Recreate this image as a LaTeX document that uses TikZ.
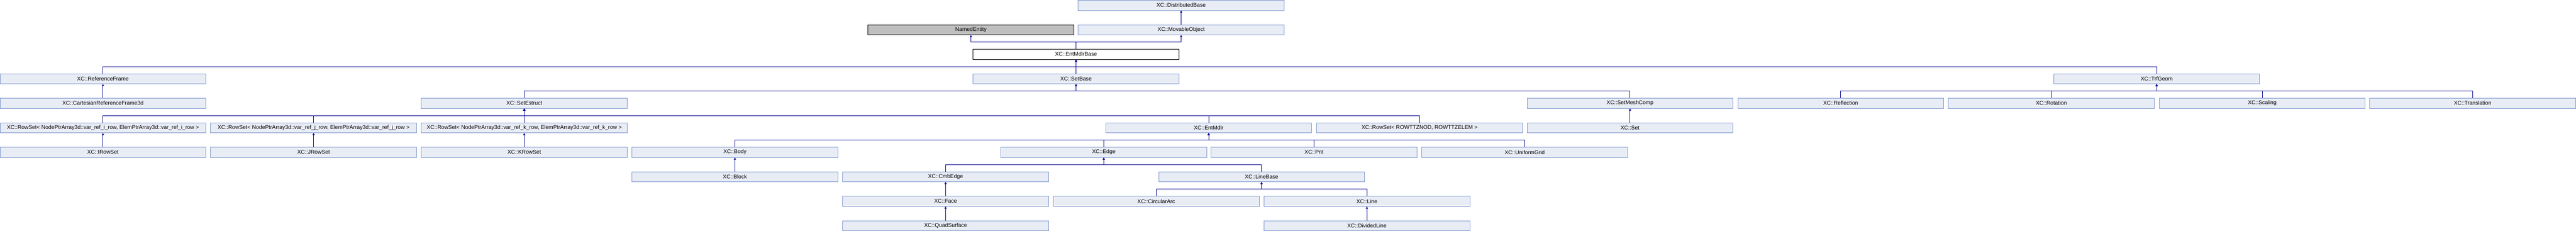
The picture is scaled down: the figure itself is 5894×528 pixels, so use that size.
\documentclass[tikz,border=0pt]{standalone}
\usepackage{fontspec}
\setmainfont{Liberation Sans}
\usetikzlibrary{arrows.meta}
\definecolor{boxfill}{RGB}{232,236,245}
\definecolor{boxborder}{RGB}{124,150,205}
\definecolor{linkc}{RGB}{0,0,140}
\definecolor{grayfill}{RGB}{191,191,191}
\begin{document}
\begin{tikzpicture}[x=1pt,y=-1pt,
  cls/.style={draw=boxborder, fill=boxfill, line width=1pt, minimum width=471pt, minimum height=23pt, inner sep=0pt, font=\fontsize{12.5}{14}\selectfont},
  ext/.style={cls, draw=black, fill=grayfill},
  cur/.style={cls, draw=black, fill=white},
  inh/.style={draw=linkc, line width=1pt, -{Triangle[width=5pt,length=5pt]}}]
\useasboundingbox (0,0) rectangle (5894,528);
% row 0
\node[cls] (DistBase) at (2702.5,12) {XC::DistributedBase};
% row 1
\node[ext] (NamedEntity) at (2221.5,68) {NamedEntity};
\node[cls] (MovObj) at (2702.5,68) {XC::MovableObject};
% row 2
\node[cur] (EMB) at (2462,124) {XC::EntMdlrBase};
% row 3
\node[cls] (RefFrame) at (235.5,180) {XC::ReferenceFrame};
\node[cls] (SetBase) at (2462,180) {XC::SetBase};
\node[cls] (TrfGeom) at (4934.5,180) {XC::TrfGeom};
% row 4
\node[cls] (CartRF) at (235.5,236) {XC::CartesianReferenceFrame3d};
\node[cls] (SetEstruct) at (1199.5,236) {XC::SetEstruct};
\node[cls] (SetMeshComp) at (3729.5,236) {XC::SetMeshComp};
\node[cls] (Reflection) at (4211.5,236) {XC::Reflection};
\node[cls] (Rotation) at (4693.5,236) {XC::Rotation};
\node[cls] (Scaling) at (5176,236) {XC::Scaling};
\node[cls] (Translation) at (5657.5,236) {XC::Translation};
% row 5
\node[cls] (RSi) at (235.5,292) {XC::RowSet< NodePtrArray3d::var\_ref\_i\_row, ElemPtrArray3d::var\_ref\_i\_row >};
\node[cls] (RSj) at (717.5,292) {XC::RowSet< NodePtrArray3d::var\_ref\_j\_row, ElemPtrArray3d::var\_ref\_j\_row >};
\node[cls] (RSk) at (1199.5,292) {XC::RowSet< NodePtrArray3d::var\_ref\_k\_row, ElemPtrArray3d::var\_ref\_k\_row >};
\node[cls] (EntMdlr) at (2765.5,292) {XC::EntMdlr};
\node[cls] (RSrow) at (3248,292) {XC::RowSet< ROWTTZNOD, ROWTTZELEM >};
\node[cls] (Set) at (3729.5,292) {XC::Set};
% row 6
\node[cls] (IRowSet) at (235.5,348) {XC::IRowSet};
\node[cls] (JRowSet) at (717.5,348) {XC::JRowSet};
\node[cls] (KRowSet) at (1199.5,348) {XC::KRowSet};
\node[cls] (Body) at (1681.5,348) {XC::Body};
\node[cls] (Edge) at (2525.5,348) {XC::Edge};
\node[cls] (Pnt) at (3006.5,348) {XC::Pnt};
\node[cls] (UniformGrid) at (3488.5,348) {XC::UniformGrid};
% row 7
\node[cls] (Block) at (1681.5,404) {XC::Block};
\node[cls] (CmbEdge) at (2163.5,404) {XC::CmbEdge};
\node[cls] (LineBase) at (2886.5,404) {XC::LineBase};
% row 8
\node[cls] (Face) at (2163.5,460) {XC::Face};
\node[cls] (CircularArc) at (2645.5,460) {XC::CircularArc};
\node[cls] (Line) at (3127.5,460) {XC::Line};
% row 9
\node[cls] (QuadSurface) at (2163.5,516) {XC::QuadSurface};
\node[cls] (DividedLine) at (3127.5,516) {XC::DividedLine};
% connectors: child -> parent
\foreach \c/\p in {MovObj/DistBase, EMB/NamedEntity, EMB/MovObj,
  RefFrame/EMB, SetBase/EMB, TrfGeom/EMB,
  CartRF/RefFrame, SetEstruct/SetBase, SetMeshComp/SetBase,
  Reflection/TrfGeom, Rotation/TrfGeom, Scaling/TrfGeom, Translation/TrfGeom,
  RSi/SetEstruct, RSj/SetEstruct, RSk/SetEstruct, EntMdlr/SetEstruct, RSrow/SetEstruct,
  Set/SetMeshComp, IRowSet/RSi, JRowSet/RSj, KRowSet/RSk,
  Body/EntMdlr, Edge/EntMdlr, Pnt/EntMdlr, UniformGrid/EntMdlr,
  Block/Body, CmbEdge/Edge, LineBase/Edge,
  Face/CmbEdge, CircularArc/LineBase, Line/LineBase,
  QuadSurface/Face, DividedLine/Line}
  {\draw[inh] (\c.north) |- ([yshift=-16.5pt]\p.south) -- (\p.south);}
\end{tikzpicture}
\end{document}
